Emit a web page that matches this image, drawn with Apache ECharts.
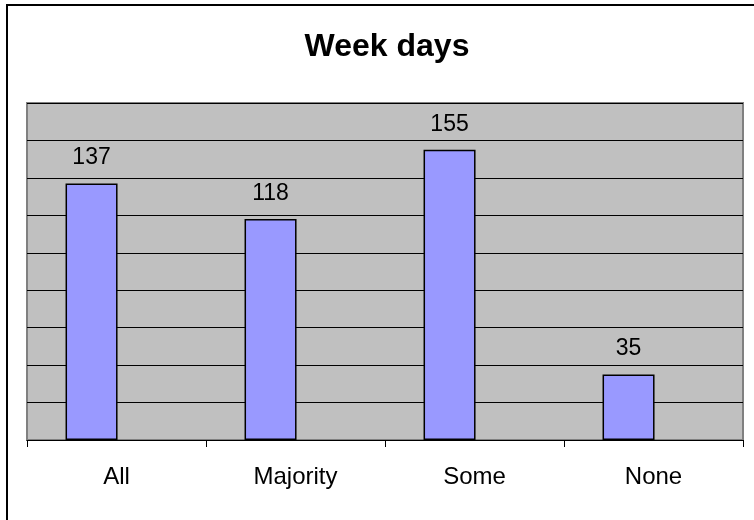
<!DOCTYPE html>
<html>
<head>
<meta charset="utf-8">
<script src="https://cdn.jsdelivr.net/npm/echarts@6/dist/echarts.min.js"></script>
<style>
  body { margin: 0; background: #fff; }
  #main { width: 754px; height: 520px; }
</style>
</head>
<body>
<div id="main"></div>
<script>
// chart data
var categories = ['All', 'Majority', 'Some', 'None'];
var weekDays = [137, 118, 155, 35];
// Excel kept an empty second series, which pushes the bars left of centre
var emptySeries = [null, null, null, null];

var myChart = echarts.init(document.getElementById('main'));

myChart.setOption({
    animation: false,
    textStyle: { fontFamily: 'Liberation Sans, Arial, sans-serif' },
    title: {
        text: 'Week days',
        left: 382,
        top: 26,
        textAlign: 'center',
        textStyle: { fontSize: 32, fontWeight: 'bold', color: '#000' }
    },
    grid: {
        left: 27,
        right: 11,
        top: 103,
        bottom: 80,
        show: true,
        backgroundColor: '#C0C0C0',
        borderColor: '#808080',
        borderWidth: 2
    },
    xAxis: {
        type: 'category',
        data: categories,
        boundaryGap: true,
        axisLine: { lineStyle: { color: '#000', width: 1 } },
        axisTick: { show: true, length: 7, lineStyle: { color: '#000' } },
        axisLabel: { color: '#000', fontSize: 24, margin: 25 }
    },
    yAxis: {
        type: 'value',
        min: 0,
        max: 180,
        interval: 20,
        axisLine: { show: false },
        axisTick: { show: false },
        axisLabel: { show: false },
        splitLine: { lineStyle: { color: '#000', width: 1 } }
    },
    series: [{
        type: 'bar',
        data: weekDays,
        barWidth: 52,
        barGap: '-4%',
        itemStyle: { color: '#9999FF', borderColor: '#000', borderWidth: 1.5 },
        label: { show: true, position: 'top', distance: 14, color: '#000', fontSize: 23 }
    }, {
        type: 'bar',
        data: emptySeries,
        barWidth: 52
    }],
    graphic: [{
        type: 'polyline',
        shape: { points: [[7, 520], [7, 5], [754, 5]] },
        style: { stroke: '#000', lineWidth: 2, fill: null }
    }]
});
</script>
</body>
</html>
